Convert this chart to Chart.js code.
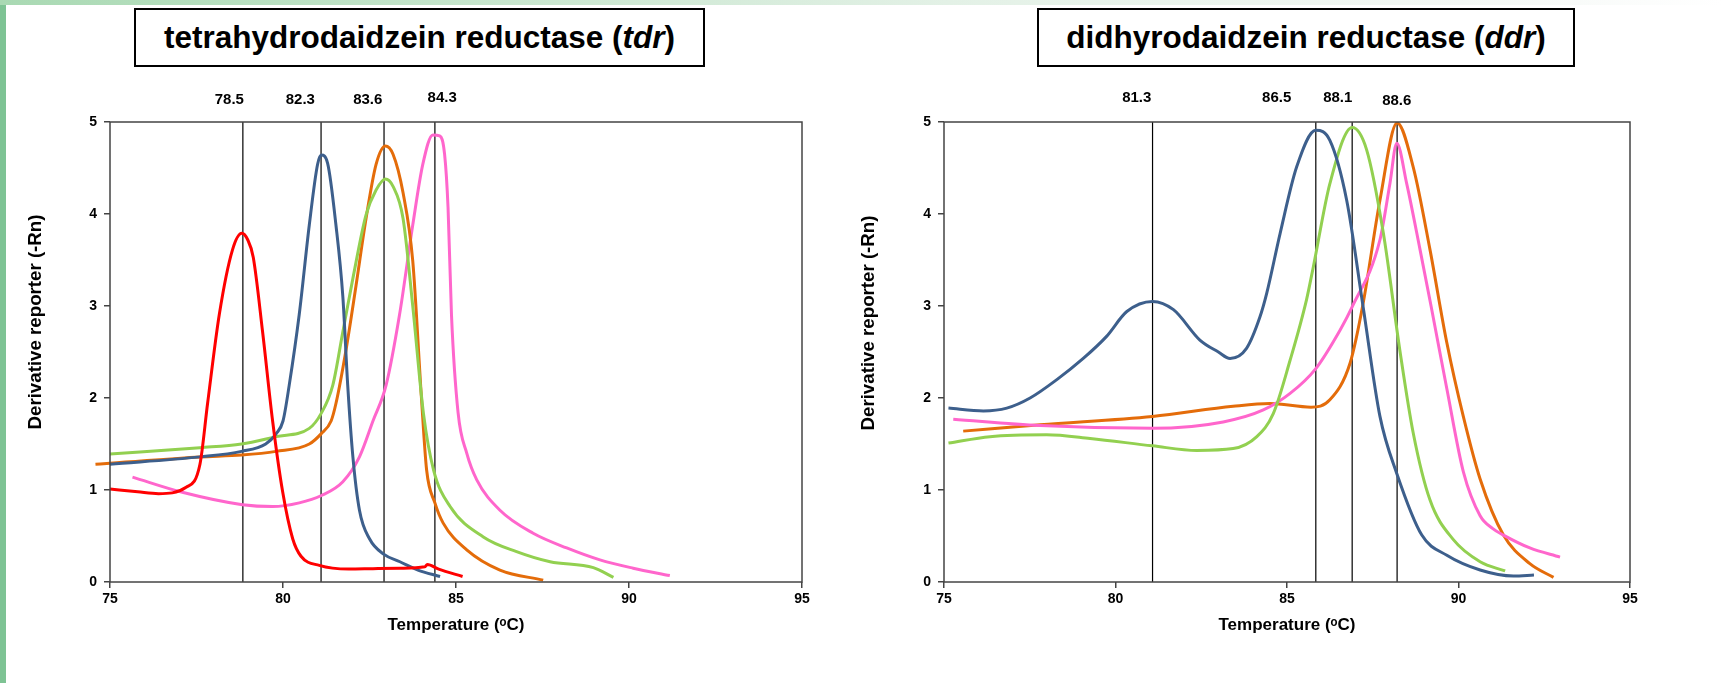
<!DOCTYPE html>
<html>
<head>
<meta charset="utf-8">
<script src="https://cdn.jsdelivr.net/npm/chart.js@4.4.1/dist/chart.umd.min.js"></script>
<style>
    html, body { margin: 0; padding: 0; background: #fff; }
    #page { position: relative; width: 1723px; height: 683px; overflow: hidden; background: #fff; }
    #sideBar { position: absolute; left: 0; top: 0; width: 6px; height: 683px; background: #7ec394; }
    #topBand { position: absolute; left: 0; top: 0; width: 1723px; height: 5px;
        background: linear-gradient(to right, #a9d9b3, #e3f1e6 55%, #f4f8f5 85%, #ffffff); }
    .titleBox { position: absolute; box-sizing: border-box; border: 2px solid #000; background: #fff;
        font-family: 'Liberation Sans', Arial, sans-serif; font-weight: bold; font-size: 31.5px;
        color: #000; text-align: center; white-space: nowrap; }
    .chartBox { position: absolute; top: 0; height: 683px; }
</style>
</head>
<body>
<div id="page">
    <div id="sideBar"></div>
    <div id="topBand"></div>
    <div class="chartBox" style="left:0; width:860px;"><canvas id="tdrChart"></canvas></div>
    <div class="chartBox" style="left:840px; width:883px;"><canvas id="ddrChart"></canvas></div>
    <div class="titleBox" style="left:134px; top:8px; width:571px; height:59px; line-height:55px;">tetrahydrodaidzein reductase (<i>tdr</i>)</div>
    <div class="titleBox" style="left:1037px; top:8px; width:538px; height:59px; line-height:55px;">didhyrodaidzein reductase (<i>ddr</i>)</div>
</div>
<script>
// ---- tdr (left) melt curves ----
const tdrRedT = [75, 75.8, 76.4, 77.2, 77.6, 77.82, 78.16, 78.54, 78.81, 78.98, 79.14, 79.41, 79.7, 79.99, 80.28, 80.52, 81.05, 81.9, 82.6, 83.4, 84.1, 84.17, 84.5, 85.19];
const tdrRedV = [1.01, 0.98, 0.96, 1.03, 1.28, 1.94, 2.91, 3.61, 3.79, 3.72, 3.53, 2.72, 1.75, 0.98, 0.47, 0.28, 0.18, 0.14, 0.145, 0.15, 0.165, 0.19, 0.14, 0.06];

const tdrBlueT = [75, 77.6, 78.8, 79.5, 79.8, 80.0, 80.18, 80.47, 80.76, 81.0, 81.11, 81.29, 81.53, 81.73, 81.87, 82.02, 82.21, 82.5, 82.92, 83.38, 83.9, 84.54];
const tdrBlueV = [1.28, 1.36, 1.42, 1.5, 1.61, 1.75, 2.14, 2.91, 3.88, 4.54, 4.64, 4.55, 3.88, 3.1, 2.14, 1.36, 0.78, 0.47, 0.3, 0.22, 0.13, 0.06];

const tdrGreenT = [75, 77.6, 78.8, 79.8, 80.76, 81.1, 81.44, 81.73, 82.02, 82.4, 82.69, 82.96, 83.18, 83.47, 83.75, 84.06, 84.35, 84.83, 85.79, 86.75, 87.72, 88.97, 89.55];
const tdrGreenV = [1.39, 1.46, 1.5, 1.58, 1.67, 1.83, 2.14, 2.72, 3.3, 3.99, 4.26, 4.38, 4.3, 3.95, 3.0, 1.83, 1.22, 0.82, 0.49, 0.33, 0.22, 0.156, 0.05];

const tdrOrangeT = [74.58, 75, 77.6, 78.8, 79.8, 80.76, 81.1, 81.39, 81.53, 81.82, 82.11, 82.4, 82.69, 82.96, 83.18, 83.47, 83.75, 84.0, 84.15, 84.39, 84.63, 85.31, 86.27, 87.52];
const tdrOrangeV = [1.28, 1.29, 1.36, 1.38, 1.42, 1.5, 1.61, 1.75, 1.94, 2.52, 3.22, 3.95, 4.54, 4.74, 4.65, 4.23, 3.49, 2.01, 1.22, 0.86, 0.64, 0.35, 0.13, 0.02];

const tdrPinkT = [75.65, 77.09, 78.83, 79.7, 80.47, 81.11, 81.73, 82.21, 82.6, 82.98, 83.37, 83.75, 84.04, 84.33, 84.53, 84.67, 84.77, 84.87, 85.06, 85.31, 85.6, 86.27, 87.23, 88.2, 89.16, 90.12, 91.18];
const tdrPinkV = [1.14, 0.975, 0.84, 0.82, 0.86, 0.94, 1.09, 1.36, 1.75, 2.14, 2.91, 3.88, 4.54, 4.86, 4.85, 4.65, 4.07, 2.9, 1.84, 1.40, 1.11, 0.78, 0.53, 0.37, 0.24, 0.15, 0.07];

// peak marker lines and the labels written above them
const tdrPeakLines = [78.84, 81.1, 82.92, 84.39];
const tdrPeakLabels = ['78.5', '82.3', '83.6', '84.3'];
const tdrLabelPos = [78.45, 80.5, 82.45, 84.6];

// ---- ddr (right) melt curves ----
const ddrBlueT = [75.13, 76.15, 76.83, 77.51, 78.29, 79.06, 79.74, 80.33, 81.08, 81.69, 82.46, 83.0, 83.34, 83.82, 84.21, 84.41, 84.8, 85.28, 85.84, 86.25, 86.74, 87.22, 87.71, 88.2, 88.93, 89.66, 90.63, 91.6, 92.2];
const ddrBlueV = [1.89, 1.86, 1.89, 2.0, 2.2, 2.43, 2.67, 2.94, 3.05, 2.96, 2.63, 2.5, 2.43, 2.54, 2.88, 3.14, 3.79, 4.51, 4.91, 4.80, 4.15, 2.99, 1.80, 1.18, 0.51, 0.29, 0.13, 0.065, 0.076];

const ddrGreenT = [75.13, 76.34, 77.99, 79.26, 81.08, 82.37, 83.43, 84.12, 84.6, 85.09, 85.57, 85.77, 86.25, 86.9, 87.32, 87.81, 88.29, 88.68, 89.17, 89.85, 90.63, 91.36];
const ddrGreenV = [1.51, 1.58, 1.60, 1.56, 1.48, 1.43, 1.45, 1.58, 1.83, 2.41, 3.07, 3.43, 4.33, 4.94, 4.70, 3.79, 2.52, 1.62, 0.89, 0.46, 0.22, 0.12];

const ddrPinkT = [75.27, 77.8, 81.08, 83.14, 84.31, 85.09, 85.84, 86.55, 86.9, 87.71, 88.0, 88.2, 88.49, 88.88, 89.2, 89.66, 90.14, 90.63, 91.0, 91.31, 92.08, 92.96];
const ddrPinkV = [1.77, 1.70, 1.67, 1.74, 1.87, 2.05, 2.32, 2.74, 2.99, 3.72, 4.33, 4.77, 4.33, 3.61, 3.0, 2.1, 1.2, 0.72, 0.58, 0.51, 0.37, 0.27];

const ddrOrangeT = [75.56, 77.8, 81.08, 83.43, 84.5, 85.7, 86.25, 86.84, 87.22, 87.71, 88.21, 88.68, 89.17, 89.66, 90.14, 90.63, 91.31, 92.08, 92.77];
const ddrOrangeV = [1.64, 1.71, 1.80, 1.91, 1.94, 1.90, 1.98, 2.38, 3.03, 4.15, 4.99, 4.51, 3.61, 2.6, 1.8, 1.12, 0.51, 0.2, 0.05];

const ddrPeakLines = [81.08, 85.84, 86.9, 88.21];
const ddrPeakLabels = ['81.3', '86.5', '88.1', '88.6'];
const ddrLabelPos = [80.62, 84.7, 86.48, 88.2];

// axis ticks
const xTicks = [75, 80, 85, 90, 95];
const yTicks = [0, 1, 2, 3, 4, 5];

const COLORS = {
    red: '#ff0000',
    blue: '#3d5f8c',
    green: '#92d050',
    orange: '#e46c0a',
    pink: '#ff66cc'
};
const FONT = "'Liberation Sans', Arial, sans-serif";

function toPoints(xs, ys) {
    return xs.map((x, i) => ({ x: x, y: ys[i] }));
}

function curve(xs, ys, color) {
    return {
        data: toPoints(xs, ys),
        borderColor: color,
        borderWidth: 3,
        pointRadius: 0,
        showLine: true,
        cubicInterpolationMode: 'monotone',
        clip: { left: 20, top: 0, right: 0, bottom: 0 }
    };
}

function peakLine(x) {
    return {
        data: [{ x: x, y: 0 }, { x: x, y: 5 }],
        borderColor: '#000',
        borderWidth: 1.2,
        pointRadius: 0,
        showLine: true
    };
}

// frame around the plot area, peak labels over the lines, rotated y title
const framePlugin = {
    id: 'frameAndLabels',
    afterDraw(chart, args, opts) {
        const { ctx, chartArea } = chart;
        ctx.save();
        ctx.strokeStyle = '#444';
        ctx.lineWidth = 1.5;
        ctx.strokeRect(chartArea.left, chartArea.top, chartArea.right - chartArea.left, chartArea.bottom - chartArea.top);
        ctx.fillStyle = '#000';
        ctx.font = 'bold 15px ' + FONT;
        ctx.textAlign = 'center';
        ctx.textBaseline = 'middle';
        opts.labels.forEach((text, i) => {
            const px = chart.scales.x.getPixelForValue(opts.positions[i]);
            ctx.fillText(text, px, opts.y[i]);
        });
        // y axis title
        ctx.translate(opts.yTitle.x, opts.yTitle.y);
        ctx.rotate(-Math.PI / 2);
        ctx.font = 'bold 18.7px ' + FONT;
        ctx.fillText('Derivative reporter (-Rn)', 0, 0);
        ctx.restore();
    }
};

function initMeltChart(canvasId, datasets, layout) {
    const canvas = document.getElementById(canvasId);
    if (!canvas) {
        console.error('canvas not found: ' + canvasId);
        return null;
    }
    const config = {
        type: 'scatter',
        data: { datasets: datasets },
        plugins: [framePlugin],
        options: {
            responsive: true,
            maintainAspectRatio: false,
            animation: false,
            events: [],
            layout: { padding: 0 },
            plugins: {
                legend: { display: false },
                tooltip: { enabled: false },
                frameAndLabels: { labels: layout.labels, positions: layout.positions, y: layout.labelY, yTitle: layout.yTitle }
            },
            scales: {
                x: {
                    type: 'linear',
                    min: 75,
                    max: 95,
                    afterBuildTicks: (scale) => { scale.ticks = xTicks.map(v => ({ value: v })); },
                    afterFit: (scale) => { scale.height = 101; },
                    grid: { drawOnChartArea: false, drawTicks: true, tickLength: 6, color: '#444', lineWidth: 1.5 },
                    border: { display: false },
                    ticks: { color: '#000', padding: 3, font: { family: FONT, size: 14, weight: 'bold' } },
                    title: {
                        display: true,
                        text: 'Temperature (ᵒC)',
                        color: '#000',
                        font: { family: FONT, size: 17, weight: 'bold' },
                        padding: { top: 0, bottom: 47 }
                    }
                },
                y: {
                    type: 'linear',
                    min: 0,
                    max: 5,
                    afterBuildTicks: (scale) => { scale.ticks = yTicks.map(v => ({ value: v })); },
                    afterFit: (scale) => { scale.width = layout.left; },
                    grid: { drawOnChartArea: false, drawTicks: true, tickLength: 6, color: '#444', lineWidth: 1.5 },
                    border: { display: false },
                    ticks: { color: '#000', padding: 7, font: { family: FONT, size: 14, weight: 'bold' } },
                    title: { display: false }
                },
                // empty axes that only reserve the margins on the top and right
                xTop: {
                    type: 'linear', position: 'top', display: true,
                    grid: { display: false }, border: { display: false }, ticks: { display: false },
                    afterFit: (scale) => { scale.height = 122; }
                },
                yRight: {
                    type: 'linear', position: 'right', display: true,
                    grid: { display: false }, border: { display: false }, ticks: { display: false },
                    afterFit: (scale) => { scale.width = layout.right; }
                }
            }
        }
    };
    return new Chart(canvas.getContext('2d'), config);
}

try {
    const tdrSets = [
        curve(tdrRedT, tdrRedV, COLORS.red),
        curve(tdrBlueT, tdrBlueV, COLORS.blue),
        curve(tdrGreenT, tdrGreenV, COLORS.green),
        curve(tdrOrangeT, tdrOrangeV, COLORS.orange),
        curve(tdrPinkT, tdrPinkV, COLORS.pink)
    ].concat(tdrPeakLines.map(peakLine));

    const ddrSets = [
        curve(ddrBlueT, ddrBlueV, COLORS.blue),
        curve(ddrGreenT, ddrGreenV, COLORS.green),
        curve(ddrPinkT, ddrPinkV, COLORS.pink),
        curve(ddrOrangeT, ddrOrangeV, COLORS.orange)
    ].concat(ddrPeakLines.map(peakLine));

    initMeltChart('tdrChart', tdrSets, {
        left: 110, right: 58, yTitle: { x: 36, y: 322 },
        labels: tdrPeakLabels, positions: tdrLabelPos, labelY: [100, 100, 100, 98]
    });
    initMeltChart('ddrChart', ddrSets, {
        left: 104, right: 93, yTitle: { x: 29, y: 323 },
        labels: ddrPeakLabels, positions: ddrLabelPos, labelY: [98, 98, 98, 101]
    });
} catch (error) {
    console.error('chart init failed:', error);
}
</script>
</body>
</html>
